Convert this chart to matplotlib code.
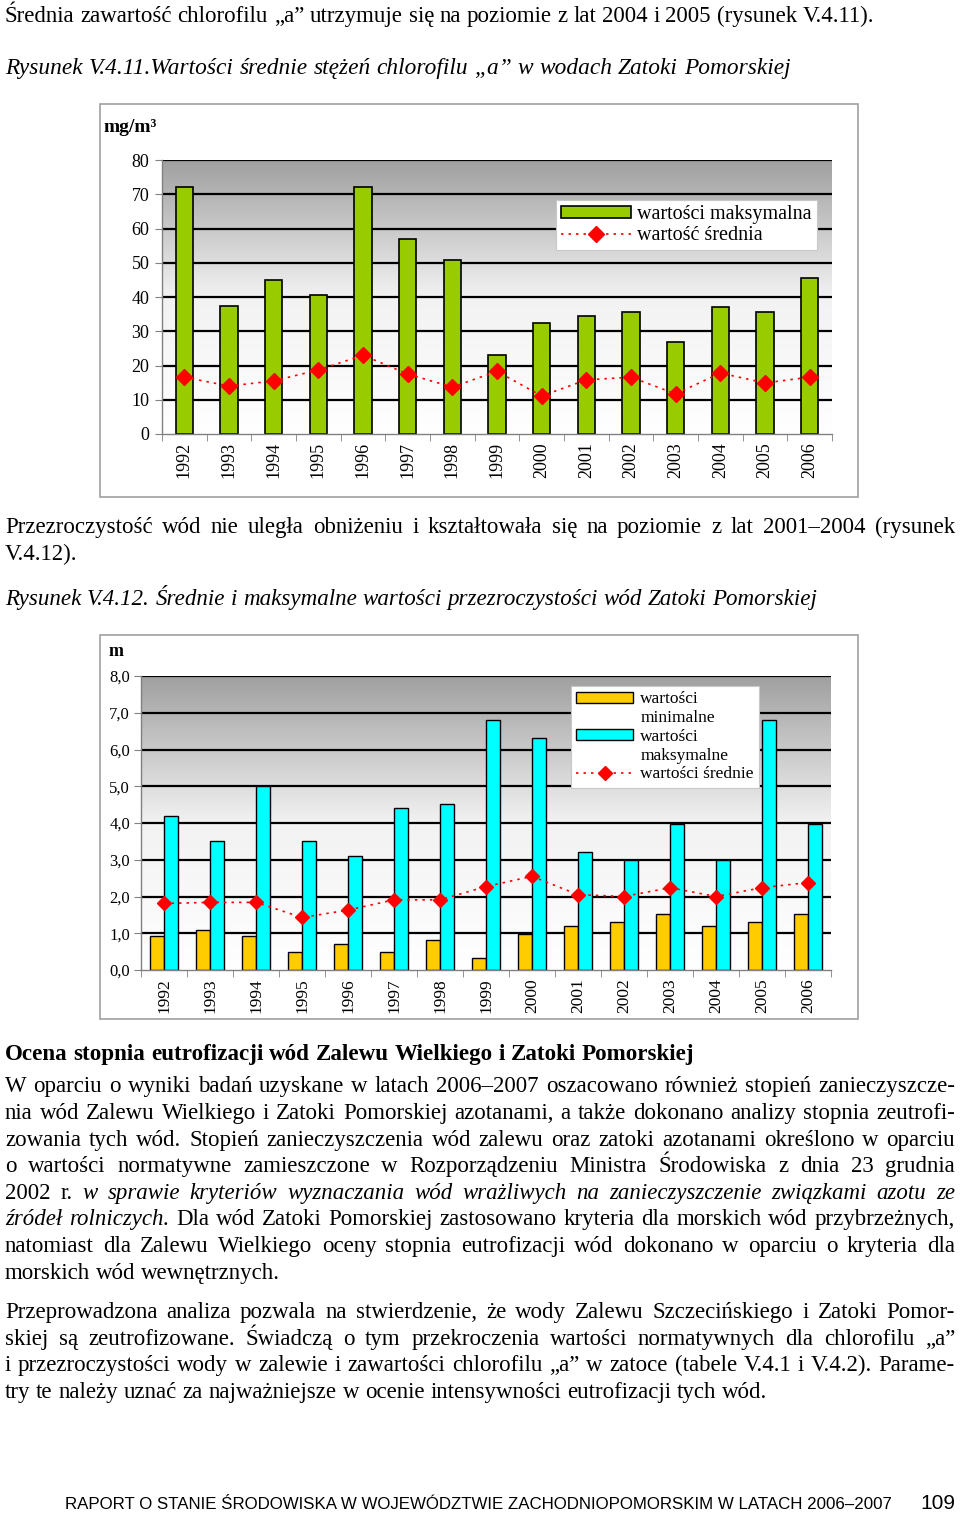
import matplotlib
matplotlib.use("Agg")
import matplotlib.pyplot as plt
import numpy as np
from matplotlib.patches import Rectangle, Patch
from matplotlib.lines import Line2D
from matplotlib.colors import LinearSegmentedColormap

# --- data read from the page ---
years = ["1992", "1993", "1994", "1995", "1996", "1997", "1998", "1999",
         "2000", "2001", "2002", "2003", "2004", "2005", "2006"]

# Rysunek V.4.11 - chlorofil "a" [mg/m3]
chl_max = [72, 37.5, 45, 40.5, 72, 57, 50.8, 23, 32.5, 34.5, 35.5, 27, 37.2, 35.5, 45.5]
chl_mean = [16.6, 14.0, 15.5, 18.7, 23.0, 17.5, 13.7, 18.3, 11.1, 15.8, 16.6, 11.7, 17.8, 14.9, 16.6]

# Rysunek V.4.12 - przezroczystosc [m]
sd_min = [0.92, 1.09, 0.92, 0.5, 0.71, 0.5, 0.82, 0.32, 0.98, 1.2, 1.31, 1.52, 1.2, 1.31, 1.52]
sd_max = [4.2, 3.5, 5.0, 3.5, 3.1, 4.42, 4.52, 6.8, 6.3, 3.2, 3.0, 3.98, 3.0, 6.8, 3.98]
sd_mean = [1.81, 1.84, 1.84, 1.43, 1.63, 1.91, 1.91, 2.27, 2.55, 2.05, 2.0, 2.24, 2.0, 2.24, 2.38]

W, H = 960, 1513
SERIF = "Liberation Serif"
SANS = "Liberation Sans"
BODY = 16.5
plt.rcParams["font.family"] = [SERIF, "DejaVu Serif"]

fig = plt.figure(figsize=(W / 100, H / 100), dpi=100)
renderer = fig.canvas.get_renderer()


def fx(x):
    return x / W


def fy(y):
    return 1 - y / H


STYLES = {"r": dict(style="normal", weight="normal"),
          "i": dict(style="italic", weight="normal"),
          "b": dict(style="normal", weight="bold")}


def text_width(s, size, st="r"):
    t = fig.text(0, 0, s, fontsize=size, family=SERIF, **STYLES[st])
    w = t.get_window_extent(renderer).width
    t.remove()
    return w


def put_line(y, parts, size=BODY, justify=True, x0=5, x1=955):
    """Draw one line of body text word by word (optionally justified)."""
    words = []
    for text, st in parts:
        for w in text.split():
            words.append((w, st))
    while True:
        widths = [text_width(w, size, st) for w, st in words]
        space = text_width("a a", size) - text_width("aa", size)
        if sum(widths) + 0.6 * space * (len(words) - 1) <= x1 - x0 or size < 10:
            break
        size -= 0.25
    gap = space
    if justify and len(words) > 1:
        gap = (x1 - x0 - sum(widths)) / (len(words) - 1)
    x = x0
    for (w, st), wd in zip(words, widths):
        fig.text(fx(x), fy(y), w, fontsize=size, family=SERIF, va="baseline",
                 ha="left", **STYLES[st])
        x += wd + gap


def frame_box(x0, y0, x1, y1):
    fig.patches.append(Rectangle((fx(x0), fy(y1)), fx(x1 - x0), (y1 - y0) / H,
                                 transform=fig.transFigure, fill=False,
                                 edgecolor="#a0a0a0", linewidth=1.2))


grad_cmap = LinearSegmentedColormap.from_list("bg", ["#ffffff", "#f2f2f2", "#a0a0a0"])


def style_axes(ax, ymax, ticks, ticklabels, tick_size, year_size, ypad):
    grad = np.linspace(0, 1, 256).reshape(-1, 1)
    ax.imshow(grad, extent=[-0.5, 14.5, 0, ymax], origin="lower", aspect="auto",
              cmap=grad_cmap, zorder=0)
    ax.set_xlim(-0.5, 14.5)
    ax.set_ylim(0, ymax)
    for t in ticks[1:]:
        ax.axhline(t, color="black", linewidth=1.6, zorder=1)
    ax.set_yticks(ticks)
    ax.set_yticklabels(ticklabels, fontsize=tick_size, family=SERIF)
    ax.set_xticks(range(len(years)))
    ax.set_xticklabels(years, rotation=90, fontsize=year_size, family=SERIF)
    ax.set_xticks(np.arange(-0.5, 15, 1), minor=True)
    ax.tick_params(axis="x", which="major", length=0, pad=6)
    ax.tick_params(axis="x", which="minor", length=5, color="#808080", direction="out")
    ax.tick_params(axis="y", length=5, color="#808080", pad=ypad)
    for s in ("top", "right"):
        ax.spines[s].set_visible(False)
    for s in ("left", "bottom"):
        ax.spines[s].set_color("#808080")
        ax.spines[s].set_linewidth(1.0)


def blank():
    return Patch(facecolor="none", edgecolor="none")


# --- text above the first chart ---
put_line(22, [("Średnia zawartość chlorofilu „a” utrzymuje się na poziomie z lat 2004 i 2005 (rysunek V.4.11).", "r")], justify=False)
put_line(74, [("Rysunek V.4.11.Wartości średnie stężeń chlorofilu „a” w wodach Zatoki Pomorskiej", "i")], size=16.8, justify=False)

# --- chart 1 ---
frame_box(100, 104, 858, 497)
ax1 = fig.add_axes([fx(162), fy(434), (832 - 162) / W, (434 - 160) / H])
style_axes(ax1, 80, list(range(0, 81, 10)), [str(v) for v in range(0, 81, 10)], 13, 13, 4)
x = np.arange(len(years))
ax1.bar(x, chl_max, width=0.39, color="#99cc00", edgecolor="black", linewidth=1.2, zorder=2)
ax1.plot(x, chl_mean, color="red", linestyle=(0, (1.5, 3)), linewidth=1.2,
         marker="D", markersize=8, markerfacecolor="red", markeredgecolor="red", zorder=3)
fig.text(fx(104), fy(132), "mg/m³", fontsize=14, weight="bold", family=SERIF, va="baseline")
h1 = [Patch(facecolor="#99cc00", edgecolor="black", linewidth=1.2),
      Line2D([], [], color="red", linestyle=(0, (1.5, 3)), linewidth=1.2, marker="D",
             markersize=8, markerfacecolor="red", markeredgecolor="red")]
leg1 = ax1.legend(h1, ["wartości maksymalna", "wartość średnia"], loc="upper right",
                  bbox_to_anchor=((817 - 162) / 670, (434 - 200) / 274), borderaxespad=0,
                  fancybox=False, framealpha=1, edgecolor="#c8c8c8", fontsize=14.5,
                  handlelength=3.5, handleheight=0.55, labelspacing=0.12, borderpad=0.25,
                  handletextpad=0.3)
leg1.get_frame().set_linewidth(0.8)

# --- text between charts ---
put_line(533, [("Przezroczystość wód nie uległa obniżeniu i kształtowała się na poziomie z lat 2001–2004 (rysunek", "r")])
put_line(560, [("V.4.12).", "r")], justify=False)
put_line(605, [("Rysunek V.4.12. Średnie i maksymalne wartości przezroczystości wód Zatoki Pomorskiej", "i")], size=16.6, justify=False)

# --- chart 2 ---
frame_box(100, 635, 858, 1019)
ax2 = fig.add_axes([fx(141), fy(970), (831 - 141) / W, (970 - 676) / H])
style_axes(ax2, 8, list(range(0, 9)), [f"{v},0" for v in range(0, 9)], 12, 12.5, 3)
ax2.bar(x - 0.155, sd_min, width=0.3, color="#ffcc00", edgecolor="black", linewidth=1.0, zorder=2)
ax2.bar(x + 0.155, sd_max, width=0.3, color="#00ffff", edgecolor="black", linewidth=1.0, zorder=2)
ax2.plot(x, sd_mean, color="red", linestyle=(0, (1.5, 3)), linewidth=1.2,
         marker="D", markersize=7.5, markerfacecolor="red", markeredgecolor="red", zorder=3)
fig.text(fx(109), fy(656), "m", fontsize=13, weight="bold", family=SERIF, va="baseline")
h2 = [Patch(facecolor="#ffcc00", edgecolor="black", linewidth=1.0), blank(),
      Patch(facecolor="#00ffff", edgecolor="black", linewidth=1.0), blank(),
      Line2D([], [], color="red", linestyle=(0, (1.5, 3)), linewidth=1.2, marker="D",
             markersize=7.5, markerfacecolor="red", markeredgecolor="red")]
leg2 = ax2.legend(h2, ["wartości", "minimalne", "wartości", "maksymalne", "wartości średnie"],
                  loc="upper right", bbox_to_anchor=((759 - 141) / 690, (970 - 686) / 294),
                  borderaxespad=0, fancybox=False, framealpha=1, edgecolor="#c8c8c8",
                  fontsize=12.5, handlelength=3.3, handleheight=0.6, labelspacing=0.16,
                  borderpad=0.3, handletextpad=0.4)
leg2.get_frame().set_linewidth(0.8)

# --- text below ---
put_line(1060, [("Ocena stopnia eutrofizacji wód Zalewu Wielkiego i Zatoki Pomorskiej", "b")], size=16.6, justify=False)
put_line(1092, [("W oparciu o wyniki badań uzyskane w latach 2006–2007 oszacowano również stopień zanieczyszcze-", "r")])
put_line(1119, [("nia wód Zalewu Wielkiego i Zatoki Pomorskiej azotanami, a także dokonano analizy stopnia zeutrofi-", "r")])
put_line(1146, [("zowania tych wód. Stopień zanieczyszczenia wód zalewu oraz zatoki azotanami określono w oparciu", "r")])
put_line(1172, [("o wartości normatywne zamieszczone w Rozporządzeniu Ministra Środowiska z dnia 23 grudnia", "r")])
put_line(1199, [("2002 r.", "r"), ("w sprawie kryteriów wyznaczania wód wrażliwych na zanieczyszczenie związkami azotu ze", "i")])
put_line(1225, [("źródeł rolniczych.", "i"), ("Dla wód Zatoki Pomorskiej zastosowano kryteria dla morskich wód przybrzeżnych,", "r")])
put_line(1252, [("natomiast dla Zalewu Wielkiego oceny stopnia eutrofizacji wód dokonano w oparciu o kryteria dla", "r")])
put_line(1279, [("morskich wód wewnętrznych.", "r")], justify=False)

put_line(1318, [("Przeprowadzona analiza pozwala na stwierdzenie, że wody Zalewu Szczecińskiego i Zatoki Pomor-", "r")])
put_line(1345, [("skiej są zeutrofizowane. Świadczą o tym przekroczenia wartości normatywnych dla chlorofilu „a”", "r")])
put_line(1371, [("i przezroczystości wody w zalewie i zawartości chlorofilu „a” w zatoce (tabele V.4.1 i V.4.2). Parame-", "r")])
put_line(1398, [("try te należy uznać za najważniejsze w ocenie intensywności eutrofizacji tych wód.", "r")], justify=False)

# --- footer ---
fig.text(fx(65), fy(1509), "RAPORT O STANIE ŚRODOWISKA W WOJEWÓDZTWIE ZACHODNIOPOMORSKIM W LATACH 2006–2007",
         fontsize=12.2, family=SANS, va="baseline", ha="left")
fig.text(fx(955), fy(1509), "109", fontsize=15, family=SANS, va="baseline", ha="right")

fig.savefig("out.png", dpi=100)
